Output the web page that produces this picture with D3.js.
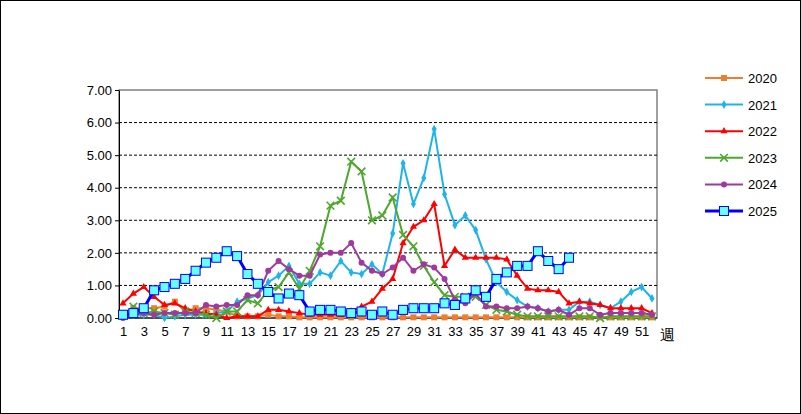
<!DOCTYPE html><html><head><meta charset="utf-8"><script src="https://cdn.jsdelivr.net/npm/d3@7"></script>
<style>body{margin:0;background:#fff}text{font-family:"Liberation Sans",Arial,sans-serif}</style></head><body><svg id="c" width="801" height="414"></svg><script>
const weeks=d3.range(1,53);
const yTicks=[0,1,2,3,4,5,6,7];
const xTickLabels=d3.range(1,52,2);
const years=["2020","2021","2022","2023","2024","2025"];
const colors=["#ED7D31","#1FB4E8","#FF0000","#4EA72E","#9E3A9E","#0000FF"];
const s2020=[0.1,0.3,0.3,0.3,0.35,0.5,0.2,0.3,0.3,0.25,0.2,0.05,0.05,0.05,0.1,0.05,0.05,0.02,0.02,0.02,0.02,0.02,0.02,0.02,0.02,0.02,0.02,0.02,0.02,0.02,0.02,0.02,0.02,0.02,0.02,0.02,0.02,0.02,0.02,0.02,0.02,0.02,0.02,0.02,0.02,0.02,0.02,0.02,0.02,0.02,0.02,0.02];
const s2021=[0.1,0.1,0.1,0.1,0.0,0.05,0.1,0.1,0.1,0.15,0.2,0.5,0.6,0.7,1.1,1.3,1.6,1.05,1.05,1.4,1.3,1.75,1.4,1.35,1.65,1.35,2.6,4.75,3.5,4.3,5.8,3.8,2.85,3.15,2.7,1.8,1.1,0.8,0.55,0.35,0.3,0.2,0.25,0.25,0.5,0.5,0.4,0.3,0.5,0.8,0.95,0.6];
const s2022=[0.45,0.75,0.95,0.65,0.4,0.45,0.3,0.2,0.15,0.1,0.0,0.05,0.05,0.05,0.25,0.25,0.2,0.15,0.1,0.1,0.1,0.1,0.2,0.35,0.5,0.9,1.2,2.3,2.8,3.0,3.5,1.6,2.1,1.85,1.85,1.85,1.85,1.8,1.3,0.9,0.85,0.85,0.8,0.45,0.5,0.45,0.4,0.3,0.3,0.3,0.3,0.15];
const s2023=[0.1,0.35,0.15,0.2,0.15,0.1,0.2,0.15,0.1,0.0,0.2,0.2,0.55,0.45,0.85,0.95,1.4,0.9,1.45,2.2,3.45,3.6,4.8,4.5,3.0,3.15,3.7,2.55,2.2,1.6,1.1,0.7,0.65,0.65,0.65,0.4,0.25,0.2,0.1,0.05,0.05,0.05,0.05,0.05,0.05,0.05,0.0,0.05,0.05,0.05,0.05,0.05];
const s2024=[0.0,0.1,0.15,0.1,0.15,0.15,0.15,0.15,0.4,0.35,0.4,0.4,0.7,0.7,1.45,1.75,1.5,1.3,1.3,1.95,2.0,2.0,2.3,1.7,1.45,1.35,1.55,1.85,1.45,1.65,1.55,1.2,0.55,0.45,0.75,0.35,0.35,0.3,0.3,0.35,0.3,0.2,0.25,0.1,0.3,0.3,0.1,0.15,0.15,0.15,0.15,0.1];
const s2025=[0.1,0.15,0.3,0.85,0.95,1.05,1.2,1.45,1.7,1.85,2.05,1.9,1.35,1.05,0.8,0.6,0.75,0.7,0.2,0.25,0.25,0.2,0.15,0.2,0.1,0.2,0.1,0.25,0.3,0.3,0.3,0.45,0.4,0.6,0.85,0.65,1.2,1.4,1.6,1.6,2.05,1.75,1.5,1.85];
const series=[s2020,s2021,s2022,s2023,s2024,s2025];
const svg=d3.select("#c");
svg.append("rect").attr("x",0.5).attr("y",0.5).attr("width",800).attr("height",413).attr("fill","#fff").attr("stroke","#000");
const L=119,R=657,T=90,B=318;
const x=d3.scaleLinear().domain([1,52]).range([123,652]);
const y=d3.scaleLinear().domain([0,7]).range([B,T]);
svg.append("rect").attr("x",L).attr("y",T).attr("width",R-L).attr("height",B-T).attr("fill","none").attr("stroke","#808080").attr("stroke-width",1.5);
yTicks.slice(1,-1).forEach(v=>svg.append("line").attr("x1",L).attr("x2",R).attr("y1",y(v)).attr("y2",y(v)).attr("stroke","#000").attr("stroke-dasharray","3,2"));
const ya=svg.append("g").attr("transform",`translate(${L},0)`).call(d3.axisLeft(y).tickValues(yTicks).tickFormat(d3.format(".2f")).tickSize(4).tickSizeOuter(0));
ya.select(".domain").attr("stroke","#000");ya.selectAll("text").attr("font-size",13).attr("fill","#000");
const xa=svg.append("g").attr("transform",`translate(0,${B})`).call(d3.axisBottom(x).tickValues(xTickLabels).tickSize(0).tickPadding(9));
xa.select(".domain").attr("d",`M${L},0H${R}`).attr("stroke","#000");xa.selectAll("text").attr("font-size",13).attr("fill","#000");
svg.append("text").attr("x",660).attr("y",340).attr("font-size",15).text("週");
const line=d3.line().x((d,i)=>x(i+1)).y(d=>y(d));
function marker(g,k,cx,cy){
 const c=colors[k];
 if(k===0) g.append("rect").attr("x",cx-3).attr("y",cy-3).attr("width",6).attr("height",6).attr("fill",c);
 else if(k===1) g.append("path").attr("d",d3.symbol(d3.symbolDiamond,22)()).attr("transform",`translate(${cx},${cy})`).attr("fill",c);
 else if(k===2) g.append("path").attr("d",d3.symbol(d3.symbolTriangle,22)()).attr("transform",`translate(${cx},${cy})`).attr("fill",c);
 else if(k===3) g.append("path").attr("d",d3.symbol(d3.symbolX,40)()).attr("transform",`translate(${cx},${cy})`).attr("fill","none").attr("stroke",c).attr("stroke-width",1.6);
 else if(k===4) g.append("circle").attr("cx",cx).attr("cy",cy).attr("r",3).attr("fill",c);
 else g.append("rect").attr("x",cx-4.5).attr("y",cy-4.5).attr("width",9).attr("height",9).attr("fill","#66FFFF").attr("stroke","#0000FF").attr("stroke-width",1);
}
series.forEach((s,k)=>{
 const g=svg.append("g");
 g.append("path").datum(s).attr("d",line).attr("fill","none").attr("stroke",colors[k]).attr("stroke-width",k===5?3:2);
 s.forEach((v,i)=>marker(g,k,x(i+1),y(v)));
 const ly=78+k*26.6;
 g.append("line").attr("x1",705).attr("x2",743).attr("y1",ly).attr("y2",ly).attr("stroke",colors[k]).attr("stroke-width",k===5?3:2);
 marker(g,k,724,ly);
 g.append("text").attr("x",748).attr("y",ly+5).attr("font-size",13).text(years[k]);
});
</script></body></html>
